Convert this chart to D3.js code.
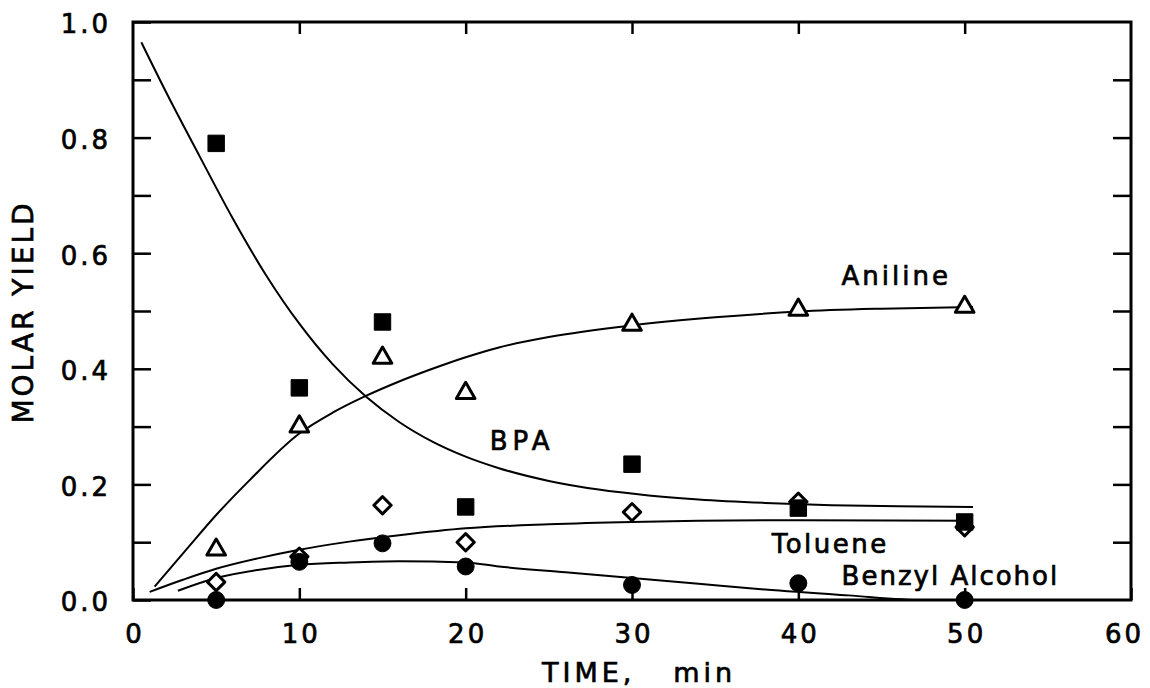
<!DOCTYPE html>
<html>
<head>
<meta charset="utf-8">
<script src="https://cdn.jsdelivr.net/npm/d3@7/dist/d3.min.js"></script>
<style>
    body { margin: 0; background: #ffffff; }
    svg text {
        font-family: "DejaVu Sans", sans-serif;
        fill: #000;
        stroke: #000;
        stroke-width: 0.7px;
    }
</style>
</head>
<body>
<svg id="chart_svg"></svg>
<script>
"use strict";

const width = 1150;
const height = 688;
const margin = { top: 22, right: 18, bottom: 88, left: 133 };

// data
const timePoints = [5, 10, 15, 20, 30, 40, 50];
const bpaYield = [0.790, 0.367, 0.481, 0.161, 0.235, 0.159, 0.135];
const anilineYield = [0.087, 0.300, 0.419, 0.358, 0.476, 0.502, 0.507];
const tolueneYield = [0.031, 0.075, 0.164, 0.100, 0.152, 0.170, 0.126];
const benzylYield = [0.000, 0.066, 0.098, 0.058, 0.026, 0.029, 0.000];

// fitted curves [time, yield]
const bpaFit = [[0.5, 0.965], [2, 0.878], [4, 0.768], [6, 0.66], [8, 0.562], [10, 0.478],
    [12, 0.408], [14, 0.352], [16, 0.308], [18, 0.274], [20, 0.248], [22, 0.228], [25, 0.206],
    [28, 0.191], [31, 0.181], [34, 0.174], [38, 0.168], [42, 0.164], [46, 0.162], [50.5, 0.161]];
const anilineFit = [[1.3, 0.023], [3.2, 0.087], [5, 0.147], [7, 0.207], [10, 0.288], [12, 0.324],
    [14, 0.353], [16, 0.378], [18, 0.4], [20, 0.42], [22, 0.437], [25, 0.455], [30, 0.475],
    [35, 0.489], [40, 0.499], [45, 0.504], [50.5, 0.507]];
const tolueneFit = [[1.0, 0.014], [3, 0.035], [5, 0.054], [7.5, 0.072], [10, 0.087], [13, 0.101],
    [16, 0.112], [20, 0.124], [25, 0.131], [30, 0.135], [40, 0.138], [50.5, 0.137]];
const benzylFit = [[2.7, 0.016], [5, 0.038], [7.5, 0.052], [10, 0.061], [13, 0.065], [16, 0.067],
    [20, 0.065], [22, 0.058], [26, 0.048], [30, 0.038], [34, 0.028], [38, 0.018], [43, 0.008],
    [47.5, 0.0], [50.5, 0.0]];

const xTicks = [0, 10, 20, 30, 40, 50, 60];
const xTickLabels = ["0", "10", "20", "30", "40", "50", "60"];
const yTicks = [0, 0.1, 0.2, 0.3, 0.4, 0.5, 0.6, 0.7, 0.8, 0.9, 1.0];
const yTickLabels = ["0.0", "", "0.2", "", "0.4", "", "0.6", "", "0.8", "", "1.0"];

const curveLabels = ["Aniline", "BPA", "Toluene", "Benzyl Alcohol"];
// where each label sits, in data units (time, yield) of its left baseline
const labelAnchors = [[42.6, 0.545], [21.45, 0.26], [38.4, 0.081], [42.6, 0.026]];
const labelSpacing = [3, 5, 2.5, 2];


const svg = d3.select("#chart_svg")
    .attr("width", width)
    .attr("height", height);

const x = d3.scaleLinear()
    .domain([0, 60])
    .range([margin.left, width - margin.right - 1]);

const y = d3.scaleLinear()
    .domain([0, 1])
    .range([height - margin.bottom, margin.top]);


// frame
svg.append("rect")
    .attr("x", x(0))
    .attr("y", y(1))
    .attr("width", x(60) - x(0))
    .attr("height", y(0) - y(1))
    .attr("fill", "none")
    .attr("stroke", "#000")
    .attr("stroke-width", 3);

// bottom axis, ticks pointing in
const xAxis = svg.append("g")
    .attr("transform", `translate(0, ${y(0)})`)
    .call(d3.axisBottom(x)
        .tickValues(xTicks)
        .tickSize(-12)
        .tickPadding(24.5)
        .tickFormat((d, i) => xTickLabels[i]));

xAxis.selectAll("text")
    .attr("dx", d => d === 60 ? "-7px" : "1.5px")
    .style("font-size", "26px")
    .style("letter-spacing", "3px");

// top ticks
svg.append("g")
    .attr("transform", `translate(0, ${y(1)})`)
    .call(d3.axisTop(x)
        .tickValues(xTicks.slice(1, -1))
        .tickSize(-12)
        .tickFormat(""));

// left axis
const yAxis = svg.append("g")
    .attr("transform", `translate(${x(0)}, 0)`)
    .call(d3.axisLeft(y)
        .tickValues(yTicks)
        .tickSize(-18)
        .tickPadding(22)
        .tickFormat((d, i) => yTickLabels[i]));

yAxis.selectAll("text")
    .attr("dy", "0.42em")
    .style("font-size", "26px")
    .style("letter-spacing", "3px");

// right ticks
svg.append("g")
    .attr("transform", `translate(${x(60)}, 0)`)
    .call(d3.axisRight(y)
        .tickValues(yTicks.slice(1, -1))
        .tickSize(-18)
        .tickFormat(""));

svg.selectAll(".domain").remove();
svg.selectAll(".tick line")
    .attr("stroke", "#000")
    .attr("stroke-width", 2.5);


// axis titles
svg.append("text")
    .attr("transform", `translate(33, 312) rotate(-90)`)
    .attr("text-anchor", "middle")
    .style("font-size", "28px")
    .style("letter-spacing", "3px")
    .text("MOLAR YIELD");

svg.append("text")
    .attr("x", 542)
    .attr("y", 682)
    .attr("xml:space", "preserve")
    .style("white-space", "pre")
    .style("font-size", "27px")
    .style("letter-spacing", "4px")
    .text("TIME,   min");


// fitted curves
const line = d3.line()
    .x(d => x(d[0]))
    .y(d => y(d[1]))
    .curve(d3.curveMonotoneX);

svg.append("g")
    .selectAll("path")
    .data([bpaFit, anilineFit, tolueneFit, benzylFit])
    .enter()
    .append("path")
    .attr("d", line)
    .attr("fill", "none")
    .attr("stroke", "#000")
    .attr("stroke-width", 2);


// markers
const markerGroup = svg.append("g");

function drawMarkers(values, type, size, filled, rotate) {
    markerGroup.append("g")
        .selectAll("path")
        .data(values)
        .enter()
        .append("path")
        .attr("d", d3.symbol().type(type).size(size))
        .attr("transform", (d, i) => `translate(${x(timePoints[i])}, ${y(d)}) rotate(${rotate})`)
        .attr("fill", filled ? "#000" : "#fff")
        .attr("stroke", "#000")
        .attr("stroke-width", filled ? 1 : 3)
        .attr("stroke-linejoin", "round");
}

drawMarkers(tolueneYield, d3.symbolSquare, 150, false, 45);
drawMarkers(anilineYield, d3.symbolTriangle, 150, false, 0);
drawMarkers(bpaYield, d3.symbolSquare, 270, true, 0);
drawMarkers(benzylYield, d3.symbolCircle, 225, true, 0);


// curve labels
svg.append("g")
    .selectAll("text")
    .data(curveLabels)
    .enter()
    .append("text")
    .attr("x", (d, i) => x(labelAnchors[i][0]))
    .attr("y", (d, i) => y(labelAnchors[i][1]))
    .style("font-size", "26px")
    .style("letter-spacing", (d, i) => labelSpacing[i] + "px")
    .text(d => d);
</script>
</body>
</html>
